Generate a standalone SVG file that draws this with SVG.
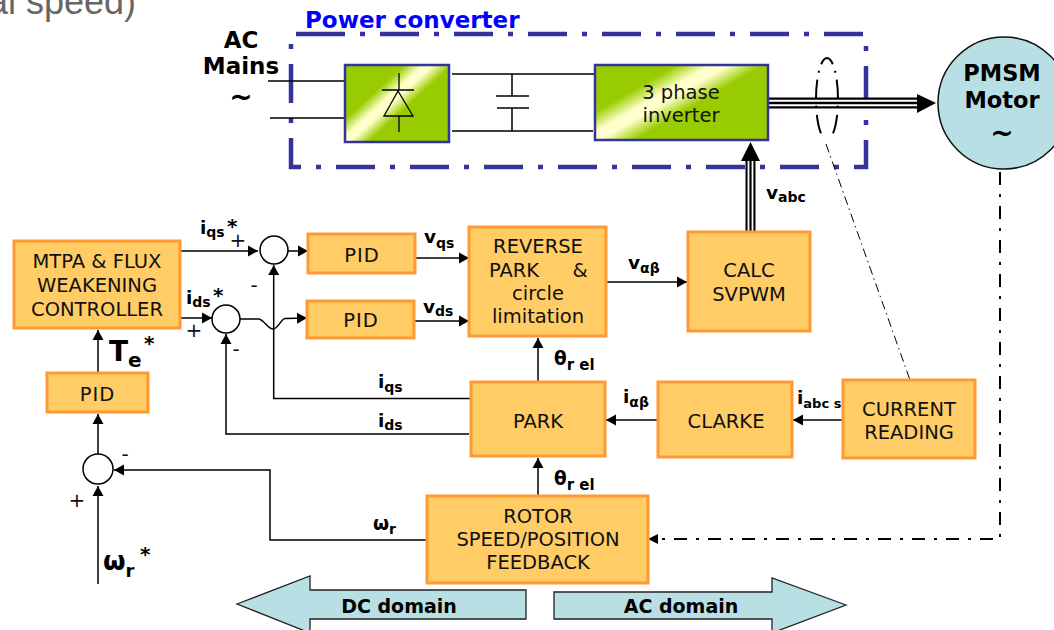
<svg xmlns="http://www.w3.org/2000/svg" width="1054" height="630" viewBox="0 0 1054 630">
<style>
text{font-family:"DejaVu Sans",Verdana,sans-serif;fill:#111}
.n{font-size:19.500px;text-anchor:middle}
.b{font-weight:bold;fill:#000}
.m{font-size:18.500px}
.s{font-size:14px}
.st{font-size:20px}
.pm{font-size:20px;text-anchor:middle}
.box{fill:#FFCC66;stroke:#FF9933;stroke-width:3}
.grn{stroke:#333399;stroke-width:2.500}
.l{fill:none;stroke:#000;stroke-width:1.500}
.a{marker-end:url(#ah)}
.sum{fill:#fff;stroke:#000;stroke-width:1.500}
.dom{fill:#B8DFE3;stroke:#222;stroke-width:1.300}
</style>
<defs>
<marker id="ah" markerUnits="userSpaceOnUse" markerWidth="11" markerHeight="12" refX="10" refY="6" orient="auto"><path d="M0,0.5L10,6L0,11.5z" fill="#000"/></marker>
<linearGradient id="g1" gradientUnits="userSpaceOnUse" x1="377" y1="90" x2="399" y2="114"><stop offset="0" stop-color="#99CC00"/><stop offset="0.4" stop-color="#FFFFCC"/><stop offset="0.6" stop-color="#FFFFCC"/><stop offset="1" stop-color="#99CC00"/></linearGradient>
<linearGradient id="g2" gradientUnits="userSpaceOnUse" x1="647" y1="82" x2="669" y2="120"><stop offset="0" stop-color="#99CC00"/><stop offset="0.4" stop-color="#FFFFCC"/><stop offset="0.6" stop-color="#FFFFCC"/><stop offset="1" stop-color="#99CC00"/></linearGradient>
</defs>
<rect width="1054" height="630" fill="#fff"/>
<text x="-12" y="14" style="font-family:'Liberation Sans',Arial,sans-serif;font-size:36px;fill:#666">al speed)</text>

<g id="power-converter">
<path d="M306,34H866V167H291V34H306" fill="none" stroke="#333399" stroke-width="4.500" stroke-dasharray="39,15,5,15"/>
<text class="b" x="305" y="28" style="font-size:23px;fill:#0000FF">Power converter</text>
</g>
<g id="connectors">
<path class="l" d="M268,81H345M270,118H344M452,74H595M452,131H593M512,74V96M496,96H529M497,108H529M512,108V131"/>
<path d="M768,103H920" stroke="#000" stroke-width="11" fill="none"/>
<path d="M768,100.700H920M768,105.300H920" stroke="#fff" stroke-width="2" fill="none"/>
<path d="M917,94L936,103L917,113z" fill="#000"/>
<path d="M750.500,232V158" stroke="#000" stroke-width="10" fill="none"/>
<path d="M748.500,232V158M752.500,232V158" stroke="#fff" stroke-width="1.800" fill="none"/>
<path d="M750.500,142L760,161H741z" fill="#000"/>
<path d="M827,58A11,41 0 0 1 827,140M827,58A11,41 0 0 0 827,140" fill="none" stroke="#000" stroke-width="2" stroke-dasharray="9,7,2,7,19,7,2,7,19,20"/>
<path d="M826,144L910,380" fill="none" stroke="#000" stroke-width="1" stroke-dasharray="9,4,1.500,4"/>
<path d="M1000,172V539H650" fill="none" stroke="#000" stroke-width="2" stroke-dasharray="13,9,3,9"/>
<path d="M658,534V544L648,539z" fill="#000"/>
<path class="l a" d="M180,251H258"/>
<path class="l a" d="M288,251H308"/>
<path class="l a" d="M180,318H212"/>
<path class="l a" d="M240,319H259C264,320 268,329 273,329C278,329 281,319 285,318.500L307,318"/>
<path class="l a" d="M473,398.500H273.700V265"/>
<path class="l a" d="M469,434H226V334"/>
<path class="l a" d="M413,258H469"/>
<path class="l a" d="M415,321H469"/>
<path class="l a" d="M607,282H687"/>
<path class="l a" d="M538,382V338"/>
<path class="l a" d="M658,420H606"/>
<path class="l a" d="M843,420H793"/>
<path class="l a" d="M538,496V458"/>
<path class="l a" d="M427,540H270V470H114"/>
<path class="l a" d="M98,584V486"/>
<path class="l a" d="M98,455V414"/>
<path class="l a" d="M98,373V330"/>
<g id="connector-labels">
<text class="b m" x="200" y="234">i<tspan class="s" dy="3">qs</tspan></text><text class="b st" x="227" y="233">*</text>
<text class="pm" x="238" y="247">+</text>
<text class="b m" x="186" y="304">i<tspan class="s" dy="3">ds</tspan></text><text class="b st" x="213" y="302">*</text>
<text class="pm" x="194" y="337">+</text>
<text class="pm" x="254" y="292">-</text>
<text class="pm" x="236" y="356">-</text>
<text class="b" x="109" y="361" style="font-size:28px">T<tspan style="font-size:20px" dy="6">e</tspan></text><text class="b st" x="144" y="350">*</text>
<text class="pm" x="125" y="461">-</text>
<text class="pm" x="77" y="507">+</text>
<text class="b" x="103" y="570" style="font-size:26px">ω<tspan style="font-size:18px" dy="7">r</tspan></text><text class="b st" x="140" y="561">*</text>
<text class="b m" x="424" y="243">v<tspan class="s" dy="5">qs</tspan></text>
<text class="b m" x="423" y="313">v<tspan class="s" dy="3">ds</tspan></text>
<text class="b m" x="628" y="269">v<tspan class="s" dy="4">αβ</tspan></text>
<text class="b m" x="554" y="365">θ<tspan style="font-size:15px" dy="5">r el</tspan></text>
<text class="b m" x="378" y="388">i<tspan class="s" dy="4">qs</tspan></text>
<text class="b m" x="378" y="427">i<tspan class="s" dy="3">ds</tspan></text>
<text class="b m" x="623" y="403">i<tspan class="s" dy="4">αβ</tspan></text>
<text class="b m" x="797" y="404">i<tspan style="font-size:13px" dy="4">abc s</tspan></text>
<text class="b m" x="554" y="485">θ<tspan style="font-size:15px" dy="5">r el</tspan></text>
<text class="b m" x="373" y="530">ω<tspan class="s" dy="4">r</tspan></text>
<text class="b m" x="766" y="199">v<tspan class="s" dy="3">abc</tspan></text>
</g>
</g>

<g id="ac-mains">
<text class="b" x="241" y="48" style="font-size:23px;text-anchor:middle">AC</text>
<text class="b" x="241" y="74" style="font-size:23px;text-anchor:middle">Mains</text>
<text class="b" x="241" y="106" style="font-size:28px;text-anchor:middle">~</text>
</g>
<g id="rectifier">
<rect class="grn" x="345" y="65" width="104" height="77" fill="url(#g1)"/>
<path class="l" d="M399,73V90M382,90H414M398,91L384,116H413zM399,116V132" style="stroke-width:1.300"/>
</g>
<g id="inverter">
<rect class="grn" x="595" y="65" width="173" height="75" fill="url(#g2)"/>
<text class="n" x="681" y="99">3 phase</text>
<text class="n" x="681" y="122">inverter</text>
</g>
<g id="motor">
<circle cx="1004" cy="103" r="66" fill="#B8DFE3" stroke="#111" stroke-width="1.500"/>
<text class="b" x="1002" y="81" style="font-size:22.500px;text-anchor:middle">PMSM</text>
<text class="b" x="1002" y="108" style="font-size:22.500px;text-anchor:middle">Motor</text>
<text class="b" x="1002" y="142" style="font-size:28px;text-anchor:middle">~</text>
</g>
<g id="mtpa"><rect class="box" x="14" y="241" width="166" height="87"/>
<text class="n" x="97" y="268">MTPA &amp; FLUX</text><text class="n" x="97" y="292">WEAKENING</text><text class="n" x="97" y="316">CONTROLLER</text></g>
<g id="pid-speed"><rect class="box" x="47" y="373" width="101" height="39"/><text class="n" x="97.500" y="401" letter-spacing="1">PID</text></g>
<g id="pid-q"><rect class="box" x="308" y="234" width="107" height="39"/><text class="n" x="362" y="262" letter-spacing="1">PID</text></g>
<g id="pid-d"><rect class="box" x="307" y="301" width="107" height="37"/><text class="n" x="361" y="327" letter-spacing="1">PID</text></g>
<g id="reverse-park"><rect class="box" x="469" y="227" width="137" height="109"/>
<text class="n" x="538" y="253">REVERSE</text><text class="n" x="538" y="277"><tspan x="514">PARK</tspan><tspan x="580">&amp;</tspan></text><text class="n" x="538" y="300">circle</text><text class="n" x="538" y="323">limitation</text></g>
<g id="svpwm"><rect class="box" x="688" y="232" width="122" height="99"/><text class="n" x="749" y="277">CALC</text><text class="n" x="749" y="301">SVPWM</text></g>
<g id="park"><rect class="box" x="471" y="382" width="134" height="74"/><text class="n" x="538" y="428">PARK</text></g>
<g id="clarke"><rect class="box" x="658" y="382" width="134" height="75"/><text class="n" x="726" y="428">CLARKE</text></g>
<g id="current"><rect class="box" x="843" y="380" width="132" height="78"/><text class="n" x="909" y="416">CURRENT</text><text class="n" x="909" y="439">READING</text></g>
<g id="rotor"><rect class="box" x="427" y="496" width="221" height="87"/><text class="n" x="538" y="523">ROTOR</text><text class="n" x="538" y="546">SPEED/POSITION</text><text class="n" x="538" y="569">FEEDBACK</text></g>
<g id="sum-q"><circle class="sum" cx="274" cy="250" r="14"/></g>
<g id="sum-d"><circle class="sum" cx="226" cy="319" r="14"/></g>
<g id="sum-speed"><circle class="sum" cx="98" cy="469" r="15"/></g>
<g id="dc-domain"><path class="dom" d="M237,604L310,576V590H526V619H310V633z"/><text class="b" x="399" y="613" style="font-size:19px;text-anchor:middle">DC domain</text></g>
<g id="ac-domain"><path class="dom" d="M846,605L772,578V592H554V619H772V633z"/><text class="b" x="681" y="613" style="font-size:19px;text-anchor:middle">AC domain</text></g>
</svg>
